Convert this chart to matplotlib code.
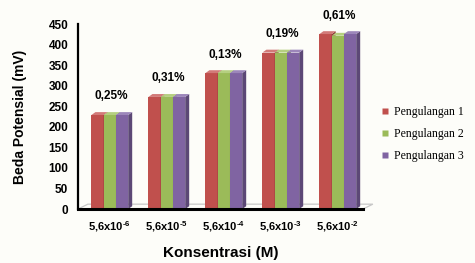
import matplotlib
matplotlib.use("Agg")
import matplotlib.pyplot as plt
from matplotlib.patches import Polygon
from matplotlib.lines import Line2D
import numpy as np

plt.rcParams['font.family'] = ['Liberation Sans', 'DejaVu Sans']
plt.rcParams['mathtext.fontset'] = 'custom'
plt.rcParams['mathtext.rm'] = 'Liberation Sans:bold'
plt.rcParams['mathtext.bf'] = 'Liberation Sans:bold'

# data
konsentrasi = [r'5,6x10$^{\text{-6}}$', r'5,6x10$^{\text{-5}}$', r'5,6x10$^{\text{-4}}$',
               r'5,6x10$^{\text{-3}}$', r'5,6x10$^{\text{-2}}$']
pengulangan_1 = [229, 273, 331, 381, 426]
pengulangan_2 = [229, 273, 331, 381, 422]
pengulangan_3 = [229, 273, 331, 381, 426]
rsd_labels = ['0,25%', '0,31%', '0,13%', '0,19%', '0,61%']
series_names = ['Pengulangan 1', 'Pengulangan 2', 'Pengulangan 3']

front_colors = ['#C0504D', '#9BBB59', '#8064A2']
side_colors = ['#8C3836', '#71893F', '#5C4876']
top_colors = ['#D27A78', '#B5CF80', '#9C86BA']

fig = plt.figure(figsize=(4.75, 2.63), dpi=100, facecolor='#fdfdf9')
ax = fig.add_axes([0.164, 0.205, 0.6, 0.703])
ax.set_facecolor('#fdfdf9')

x = np.arange(len(konsentrasi))
w = 0.215
shift = 0.06
dx, dy = 0.07, 7   # fake 3d depth (data units)

# floor of the 3d box
fdx, fdy = 0.175, 12
floor = Polygon([(-0.5, 0), (-0.5 + fdx, fdy), (4.5 + fdx, fdy), (4.5, 0)],
                closed=True, fill=False, edgecolor='#c8c8c8', lw=0.9,
                clip_on=False, zorder=1)
ax.add_patch(floor)

all_series = [pengulangan_1, pengulangan_2, pengulangan_3]
for k, vals in enumerate(all_series):
    xs = x + shift - 1.5 * w + k * w + w / 2
    ax.bar(xs, vals, width=w, color=front_colors[k], zorder=3 + k)
    for xi, v in zip(xs, vals):
        l, r = xi - w / 2, xi + w / 2
        side = Polygon([(r, 0), (r + dx, dy), (r + dx, v + dy), (r, v)],
                       closed=True, facecolor=side_colors[k], lw=0,
                       clip_on=False, zorder=3 + k)
        top = Polygon([(l, v), (l + dx, v + dy), (r + dx, v + dy), (r, v)],
                      closed=True, facecolor=top_colors[k], lw=0,
                      clip_on=False, zorder=3 + k)
        ax.add_patch(side)
        ax.add_patch(top)

tops = np.max(all_series, axis=0)
for xi, t, lab in zip(x, tops, rsd_labels):
    ax.annotate(lab, (xi + shift + 0.03, t), xytext=(0, 9), textcoords='offset points',
                ha='center', va='bottom', fontsize=8.5, fontweight='bold')

ax.set_xlim(-0.5, 4.5)
ax.set_ylim(0, 450)
ax.set_yticks(range(0, 451, 50))
ax.set_xticks(x + shift)
ax.set_xticklabels(konsentrasi, fontsize=8, fontweight='bold')
ax.tick_params(axis='y', length=0, pad=7, labelsize=8.5)
ax.tick_params(axis='x', length=0, pad=7)
for lab in ax.get_yticklabels():
    lab.set_fontweight('bold')

for s in ['top', 'right']:
    ax.spines[s].set_visible(False)
ax.spines['left'].set_linewidth(1.6)
ax.spines['bottom'].set_linewidth(2.2)
ax.spines['left'].set_zorder(10)
ax.spines['bottom'].set_zorder(10)

ax.set_ylabel('Beda Potensial (mV)', fontsize=10, fontweight='bold', labelpad=15)
ax.set_xlabel('Konsentrasi (M)', fontsize=11, fontweight='bold', labelpad=9)

handles = [Line2D([], [], marker='s', linestyle='none', markersize=5,
                  markerfacecolor=c, markeredgecolor='none') for c in front_colors]
fig.legend(handles, series_names, loc='center left',
           bbox_to_anchor=(0.78, 0.49), frameon=False,
           prop={'family': 'Liberation Serif', 'size': 8.5},
           handlelength=0.7, handletextpad=0.35, labelspacing=0.85)

fig.savefig('out.png', dpi=100, facecolor=fig.get_facecolor())
